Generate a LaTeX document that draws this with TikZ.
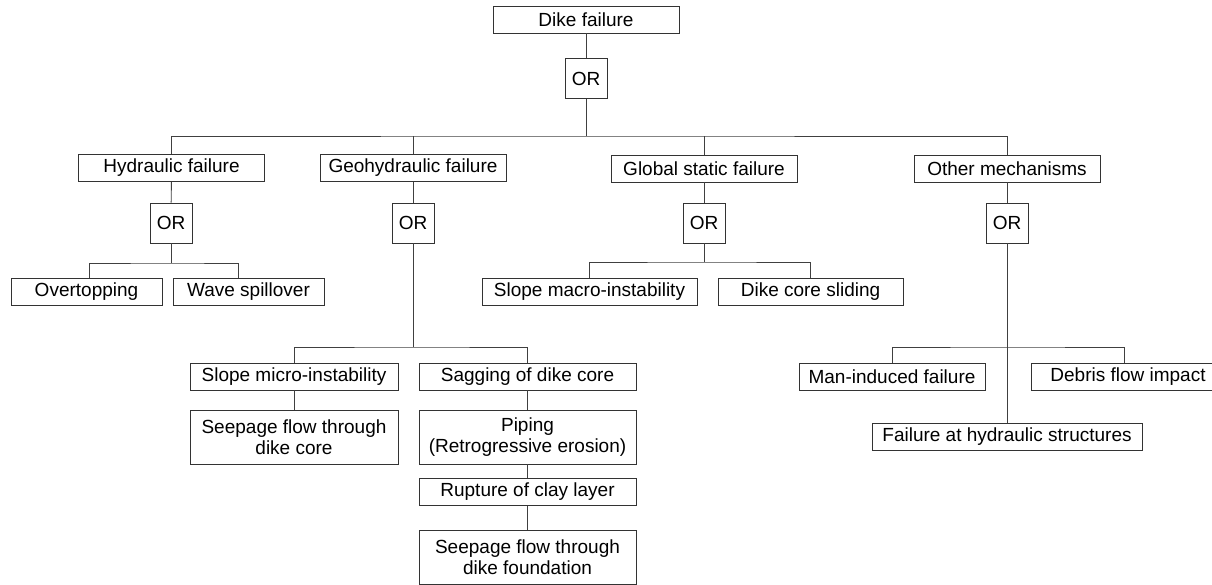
\documentclass[tikz,border=0pt]{standalone}
\usepackage{fontspec}
\setmainfont{Liberation Sans}
\begin{document}
\begin{tikzpicture}[x=1pt,y=-1pt,
  box/.style={draw=black!80,line width=0.9pt,inner sep=0pt,align=center,
    font=\fontsize{19}{21}\selectfont,minimum height=27pt},
  orbox/.style={box,minimum width=42pt,minimum height=40pt},
  link/.style={draw=black!75,line width=0.9pt}]
\useasboundingbox (0,0) rectangle (1212,584);
% level 0
\node[box,minimum width=186pt] (top) at (586,19.5) {Dike failure};
\node[orbox] (or0) at (586,78.5) {OR};
% level 1
\node[box,minimum width=186pt] (hyd) at (171.5,168) {Hydraulic failure};
\node[box,minimum width=186pt] (geo) at (413,168) {Geohydraulic failure};
\node[box,minimum width=186pt] (glob) at (704,168.5) {Global static failure};
\node[box,minimum width=186pt] (oth) at (1007,168.5) {Other mechanisms};
\node[orbox] (orh) at (171,223) {OR};
\node[orbox] (org) at (413,223) {OR};
\node[orbox] (ors) at (704,223) {OR};
\node[orbox] (oro) at (1007,223) {OR};
% hydraulic children
\node[box,minimum width=151pt] (over) at (86.5,291.5) {Overtopping};
\node[box,minimum width=151pt] (wave) at (248.5,291.5) {Wave spillover};
% global static children
\node[box,minimum width=215pt] (macro) at (589.5,291.5) {Slope macro-instability};
\node[box,minimum width=185pt] (slide) at (810.5,291.5) {Dike core sliding};
% geohydraulic children
\node[box,minimum width=208pt] (micro) at (294,376.5) {Slope micro-instability};
\node[box,minimum width=208pt,minimum height=54pt] (seepc) at (294,437) {Seepage flow through\\dike core};
\node[box,minimum width=217pt] (sag) at (527.5,376.5) {Sagging of dike core};
\node[box,minimum width=217pt,minimum height=54pt] (pip) at (527.5,437) {Piping\\(Retrogressive erosion)};
\node[box,minimum width=217pt] (rup) at (527.5,492) {Rupture of clay layer};
\node[box,minimum width=217pt,minimum height=54pt] (seepf) at (527.5,557) {Seepage flow through\\dike foundation};
% other children
\node[box,minimum width=186pt] (man) at (892,376.5) {Man-induced failure};
\node[box,minimum width=194pt] (deb) at (1128,376.5) {Debris flow impact};
\node[box,minimum width=270pt] (fhs) at (1007,436.5) {Failure at hydraulic structures};
% bus coordinates
\coordinate (b0) at (586,136);
\coordinate (bh) at (171,263);
\coordinate (bs) at (704,262);
\coordinate (bg) at (413,347);
\coordinate (bo) at (1007,347);
% connectors
\path[link] (top) -- (or0);
\path[link] (or0) -- (b0);
\path[link] (hyd.north) |- (b0) -| (oth.north);
\path[link] (geo.north) -- (geo.north |- b0);
\path[link] (glob.north) -- (glob.north |- b0);
\path[link] (hyd) -- (orh);
\path[link] (geo) -- (org);
\path[link] (glob) -- (ors);
\path[link] (oth) -- (oro);
\path[link] (orh) -- (bh);
\path[link] ([xshift=2.5pt]over.north) |- (bh) -| ([xshift=-10.5pt]wave.north);
\path[link] (ors) -- (bs);
\path[link] (macro.north) |- (bs) -| (slide.north);
\path[link] (org) -- (bg);
\path[link] (micro.north) |- (bg) -| (sag.north);
\path[link] (micro) -- (seepc);
\path[link] (sag) -- (pip);
\path[link] (pip) -- (rup);
\path[link] (rup) -- (seepf);
\path[link] (oro) -- (fhs);
\path[link] (man.north) |- (bo) -| ([xshift=-4pt]deb.north);
\end{tikzpicture}
\end{document}
